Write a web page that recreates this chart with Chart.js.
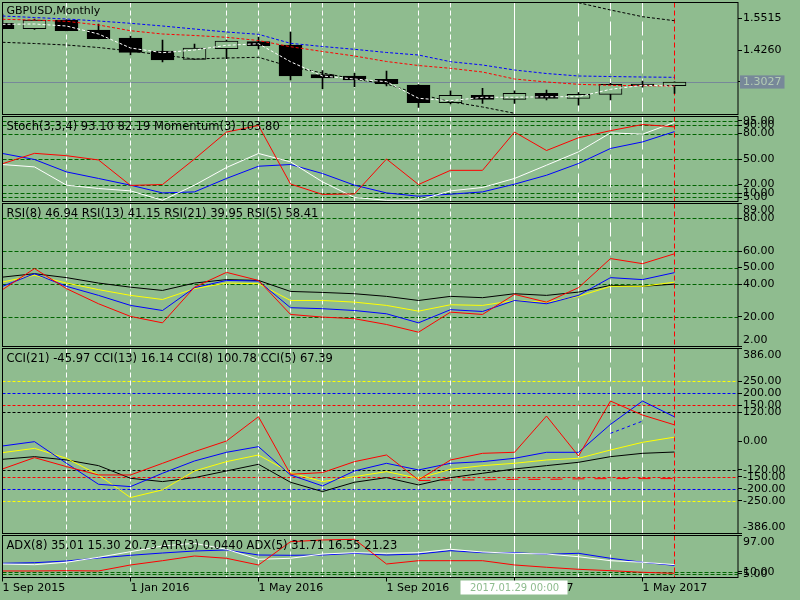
<!DOCTYPE html>
<html>
<head>
<meta charset="utf-8">
<title>GBPUSD,Monthly</title>
<script src="https://cdn.jsdelivr.net/npm/chart.js@4.4.1/dist/chart.umd.min.js"></script>
<style>
  html, body { margin: 0; padding: 0; background: #8fbc8f; overflow: hidden; }
  #terminal { position: relative; width: 800px; height: 600px; }
  #terminal canvas { position: absolute; left: 0; top: 0; }
</style>
</head>
<body>
<div id="terminal">
  <canvas id="paneMain" width="800" height="600"></canvas>
  <canvas id="paneStoch" width="800" height="600"></canvas>
  <canvas id="paneRsi" width="800" height="600"></canvas>
  <canvas id="paneCci" width="800" height="600"></canvas>
  <canvas id="paneAdx" width="800" height="600"></canvas>
</div>
<script>
// monthly bars, Sep 2015 .. Jun 2017
const months = ["2015.09", "2015.10", "2015.11", "2015.12", "2016.01", "2016.02", "2016.03", "2016.04",
  "2016.05", "2016.06", "2016.07", "2016.08", "2016.09", "2016.10", "2016.11", "2016.12",
  "2017.01", "2017.02", "2017.03", "2017.04", "2017.05", "2017.06"];

// candles
const opens  = [1.5309, 1.5099, 1.5437, 1.5048, 1.4737, 1.4232, 1.3909, 1.4321, 1.4594, 1.4465, 1.3311,
  1.3260, 1.3132, 1.2910, 1.2222, 1.2510, 1.2354, 1.2587, 1.2393, 1.2548, 1.2949, 1.2883];
const highs  = [1.5671, 1.5476, 1.5457, 1.5282, 1.4815, 1.4660, 1.4504, 1.4660, 1.4776, 1.4971, 1.3466,
  1.3365, 1.3454, 1.2930, 1.2688, 1.2782, 1.2688, 1.2716, 1.2611, 1.2976, 1.3066, 1.3035];
const lows   = [1.5087, 1.5068, 1.5010, 1.4699, 1.4076, 1.3804, 1.3901, 1.3933, 1.4310, 1.3104, 1.2766,
  1.2844, 1.2871, 1.2043, 1.2171, 1.2198, 1.2198, 1.2327, 1.2121, 1.2327, 1.2821, 1.2587];
const closes = [1.5099, 1.5437, 1.5021, 1.4710, 1.4181, 1.3882, 1.4349, 1.4621, 1.4438, 1.3260, 1.3182,
  1.3104, 1.2961, 1.2222, 1.2510, 1.2354, 1.2587, 1.2393, 1.2548, 1.2937, 1.2883, 1.3027];
const currentPrice = 1.3027;

// moving averages on the price pane
const maBlue  = [1.5593, 1.5534, 1.5476, 1.5398, 1.5309, 1.5204, 1.5087, 1.4971, 1.4881, 1.4531, 1.4407,
  1.4298, 1.4174, 1.4076, 1.3816, 1.3688, 1.3493, 1.3357, 1.3260, 1.3240, 1.3221, 1.3209];
const maRed   = [1.5464, 1.5437, 1.5387, 1.5243, 1.5021, 1.4893, 1.4835, 1.4765, 1.4640, 1.4399, 1.4213,
  1.4038, 1.3824, 1.3668, 1.3559, 1.3415, 1.3143, 1.3027, 1.2937, 1.2898, 1.2883, 1.2871];
const maWhite = [1.5270, 1.5282, 1.5204, 1.4893, 1.4349, 1.4166, 1.4271, 1.4454, 1.4516, 1.3816, 1.3260,
  1.3143, 1.3038, 1.2393, 1.2300, 1.2432, 1.2432, 1.2455, 1.2455, 1.2743, 1.2898, 1.2871];
const maBlack = [1.4570, 1.4524, 1.4465, 1.4368, 1.4232, 1.4076, 1.3921, 1.3960, 1.3987, 1.3622, 1.3377,
  1.3143, 1.2949, 1.2560, 1.2261, 1.2055, 1.1810, null, 1.6110, 1.5826, 1.5566, 1.5410];

// Stoch(3,3,4) + Momentum(3)
const stochMain   = [43.5, 40.7, 19.2, 15.3, 12.5, 1.5, 19.2, 40.0, 56.5, 46.6, 23.1, 4.7, 1.5, 1.5,
  12.5, 16.5, 27.1, 42.7, 58.4, 80.7, 79.2, 93.1];
const stochSignal = [56.5, 49.4, 34.8, 27.1, 19.2, 10.1, 11.3, 27.1, 41.5, 43.5, 32.9, 19.2, 10.1, 6.2,
  8.6, 11.3, 20.4, 30.9, 44.7, 62.4, 70.1, 82.19];
const momentum    = [96.0, 98.2, 97.7, 96.8, 91.4, 91.6, 97.0, 102.7, 104.1, 91.7, 89.5, 89.6, 97.0, 91.6,
  94.6, 94.6, 102.7, 98.8, 101.5, 103.0, 104.3, 103.8];

// RSI
const rsi5  = [36.6, 49.4, 37.2, 28.0, 20.3, 16.4, 38.1, 47.1, 42.2, 21.5, 19.9, 18.9, 15.4, 10.7,
  22.9, 21.5, 33.7, 29.0, 37.8, 55.5, 52.4, 58.41];
const rsi8  = [38.6, 46.3, 38.6, 33.1, 27.0, 23.9, 37.8, 42.2, 41.8, 25.6, 25.0, 23.9, 21.9, 16.4,
  24.4, 23.3, 30.0, 28.0, 33.1, 43.9, 42.7, 46.94];
const rsi13 = [41.2, 45.3, 40.6, 36.6, 33.1, 30.6, 37.2, 40.6, 40.2, 30.0, 30.0, 29.0, 27.0, 23.5,
  27.4, 27.0, 30.0, 29.0, 32.5, 38.6, 38.6, 41.15];
const rsi21 = [44.2, 46.3, 43.9, 40.6, 38.1, 36.1, 40.6, 42.7, 42.2, 35.5, 34.9, 34.1, 32.5, 30.0,
  32.5, 31.7, 34.1, 33.1, 35.1, 39.2, 38.6, 39.95];

// CCI
const cci5  = [-116.7, -69.4, -106.9, -141.7, -141.7, -93.1, -44.4, 0, 101.4, -138.9, -131.9, -86.1,
  -58.3, -162.5, -79.2, -51.4, -47.2, 104.2, -62.5, 166.7, 108.3, 67.39];
const cci8  = [-20.8, -2.8, -93.1, -180.6, -190.3, -134.7, -83.3, -47.2, -23.6, -141.7, -187.5, -125,
  -93.1, -120.8, -93.1, -86.1, -72.2, -47.2, -47.2, 69.4, 166.7, 100.78];
const cci13 = [-48.6, -30.6, -72.2, -141.7, -236, -204, -125, -86.1, -58.3, -131.9, -169.4, -148.6,
  -127.8, -155.6, -118.1, -102.8, -93.1, -79.2, -72.2, -37.5, -5.6, 16.14];
const cci21 = [-76.4, -65.3, -79.2, -102.8, -155.6, -169.4, -152.8, -125, -97.2, -172.2, -211, -172.2,
  -152.8, -183.3, -152.8, -134.7, -116.7, -102.8, -88.9, -65.3, -51.4, -45.97];
const cciAux   = [null, null, null, null, null, null, null, null, null, null, null, null,
  null, null, null, null, null, null, null, 32, 83, null];
const cciTrail = [null, null, null, null, null, null, null, null, null, null, null, null,
  null, -165, -163, -162, -160, -160, -158, -157, -157, -157];

// ADX / ATR pane (pane units)
const adxBlue  = [30.2, 31.6, 35.7, 42.9, 49.4, 54.9, 59.7, 62.1, 50.1, 49.4, 50.1, 54.2, 50.1, 52.5,
  60.5, 55.7, 55.7, 51.8, 54.2, 42.2, 32.6, 25.0];
const adxWhite = [28.5, 26.8, 32.6, 44.6, 58.1, 71.8, 78.2, 63.8, 39.8, 42.2, 52.5, 55.7, 54.2, 55.7,
  63.8, 57.3, 54.2, 52.5, 46.0, 36.4, 32.6, 27.0];
const adxRed   = [11.7, 11.7, 12.4, 11.7, 26.1, 36.4, 47.7, 42.2, 26.1, 82.1, 86.2, 87.9, 28.5, 36.4,
  36.4, 36.4, 26.1, 20.6, 15.7, 12.4, 8.5, 6.1];

// axis ticks and levels
const priceTicks = [1.5515, 1.4260, 1.3027];
const stochTicks = [95, 90, 80, 50, 20, 10, 5];
const rsiTicks = [89, 80, 60, 50, 40, 20, 2];
const rsiLevels = [80, 60, 50, 40, 20];
const cciTicks = [386, 250, 200, 150, 120, 0, -120, -150, -200, -250, -386];
const adxTicks = [97, 10, 5];
const dateTickIdx = [0, 4, 8, 12, 16, 20];
const dateTickText = ["1 Sep 2015", "1 Jan 2016", "1 May 2016", "1 Sep 2016", "1 Jan 2017", "1 May 2017"];

// vertical lines (bar indices)
const dottedMarks = [2, 4, 7, 8, 9, 10, 11, 13, 14];
const solidMarks = [16];
const longDashMarks = [18, 19, 20];
const cursorBar = 21;
const crosshairBar = 16;
const crosshairTime = "2017.01.29 00:00";

// ---- look ----
const BG = "#8fbc8f";
const FONT = '"DejaVu Sans", sans-serif';
const LEVEL_GREEN = "#006400";
const markerLines = [
  { months: dottedMarks, color: "#ffffff", dash: [5, 3] },
  { months: solidMarks, color: "#ffffff", dash: [] },
  { months: longDashMarks, color: "#ffffff", dash: [14, 5] },
  { months: [cursorBar], color: "#ff0000", dash: [5, 3] }
];

// draws levels, vertical marks, pane frame, pane title
const paneDecor = {
  id: "paneDecor",
  beforeDatasetsDraw(chart, args, opts) {
    const { ctx, chartArea: a, scales } = chart;
    ctx.save();
    ctx.beginPath();
    ctx.rect(a.left, a.top, a.right - a.left, a.bottom - a.top);
    ctx.clip();
    ctx.lineWidth = 1;
    (opts.levels || []).forEach(lv => {
      const py = Math.round(scales.y.getPixelForValue(lv.value)) + 0.5;
      ctx.strokeStyle = lv.color;
      ctx.setLineDash(lv.dash);
      ctx.beginPath();
      ctx.moveTo(a.left, py);
      ctx.lineTo(a.right, py);
      ctx.stroke();
    });
    markerLines.forEach(m => {
      ctx.strokeStyle = m.color;
      ctx.setLineDash(m.dash);
      m.months.forEach(i => {
        const px = scales.x.getPixelForValue(i);
        ctx.beginPath();
        ctx.moveTo(px, a.top);
        ctx.lineTo(px, a.bottom);
        ctx.stroke();
      });
    });
    ctx.restore();
  },
  afterDraw(chart, args, opts) {
    const { ctx, chartArea: a } = chart;
    ctx.save();
    ctx.strokeStyle = "#000";
    ctx.lineWidth = 1;
    ctx.setLineDash([]);
    ctx.strokeRect(a.left, a.top, a.right - a.left, a.bottom - a.top);
    if (opts.title) {
      ctx.fillStyle = "#000";
      ctx.font = opts.titleSize + "px " + FONT;
      ctx.textBaseline = "middle";
      ctx.fillText(opts.title, a.left + 4, a.top + opts.titleOffset);
    }
    if (opts.crosshair) {
      // time label of the crosshair under the date axis
      const cx = chart.scales.x.getPixelForValue(crosshairBar);
      ctx.fillStyle = "#ffffff";
      ctx.fillRect(cx - 54, a.bottom + 3, 107, 14);
      ctx.fillStyle = BG;
      ctx.font = "10px " + FONT;
      ctx.textAlign = "center";
      ctx.textBaseline = "middle";
      ctx.fillText(crosshairTime, cx, a.bottom + 10.5);
    }
    ctx.restore();
  }
};

function points(arr) {
  return arr.map((v, i) => ({ x: i, y: v }));
}

function line(data, color, dash, axis, order) {
  return {
    type: "line", data: points(data), borderColor: color, borderWidth: 1,
    borderDash: dash || [], pointRadius: 0, tension: 0, spanGaps: false,
    yAxisID: axis || "y", order: order || 0
  };
}

function yAxis(min, max, tickValues, digits, extra) {
  return Object.assign({
    type: "linear", position: "right", min: min, max: max,
    afterBuildTicks: s => { s.ticks = tickValues.map(v => ({ value: v })); },
    afterFit: s => { s.width = 62; s.paddingTop = 0; s.paddingBottom = 0; },
    grid: { drawOnChartArea: false, drawTicks: true, tickLength: 4, color: "#000" },
    border: { display: false },
    ticks: {
      autoSkip: false, padding: 1, color: "#000",
      font: { family: FONT, size: 11 },
      callback: v => {
        const t = v.toFixed(digits);
        if (v === max) return ["", t];
        if (v === min) return [t, ""];
        return t;
      }
    }
  }, extra || {});
}

function xAxis(showDates) {
  const ax = {
    type: "linear", min: 0, max: 22.984, display: showDates,
    offset: false, grid: { offset: false }
  };
  if (showDates) {
    Object.assign(ax, {
      position: "bottom",
      afterBuildTicks: s => { s.ticks = dateTickIdx.map(v => ({ value: v })); },
      afterFit: s => { s.height = 22.5; s.paddingLeft = 0; s.paddingRight = 0; },
      grid: { offset: false, drawOnChartArea: false, drawTicks: true, tickLength: 4, color: "#000" },
      border: { display: false },
      ticks: {
        autoSkip: false, maxRotation: 0, minRotation: 0, align: "start", padding: 0,
        color: "#000", font: { family: FONT, size: 11 },
        callback: (v, i) => dateTickText[i]
      }
    });
  }
  return ax;
}

function makePane(id, top, bottom, scales, datasets, decor, showDates) {
  return new Chart(document.getElementById(id), {
    type: "line",
    data: { datasets: datasets },
    options: {
      responsive: false, animation: false, devicePixelRatio: 1,
      layout: { padding: { left: 2.5, right: 0, top: top, bottom: showDates ? 0 : 600 - bottom } },
      plugins: { legend: { display: false }, tooltip: { enabled: false }, paneDecor: decor },
      scales: Object.assign({ x: xAxis(showDates) }, scales)
    },
    plugins: [paneDecor]
  });
}

// ---- price pane ----
const priceAxis = yAxis(1.1763, 1.6118, priceTicks, 4);
priceAxis.ticks.showLabelBackdrop = c => c.tick && c.tick.value === currentPrice;
priceAxis.ticks.backdropColor = "#778899";
priceAxis.ticks.backdropPadding = { x: 3, y: 0 };
priceAxis.ticks.color = c => (c.tick && c.tick.value === currentPrice ? "#b4ccb4" : "#000");

makePane("paneMain", 2.5, 114.5, { y: priceAxis }, [
  line(maWhite, "#ffffff", [3, 2], "y", 0),
  line(maBlack, "#000000", [3, 2], "y", 1),
  line(maRed, "#ff0000", [3, 2], "y", 1),
  line(maBlue, "#0000ff", [3, 2], "y", 1),
  {
    type: "bar", data: opens.map((o, i) => ({ x: i, y: [o, closes[i]] })),
    backgroundColor: opens.map((o, i) => (closes[i] >= o ? BG : "#000")),
    borderColor: "#000", borderWidth: 1, borderSkipped: false,
    barThickness: 23, grouped: false, order: 5
  },
  {
    type: "bar", data: lows.map((l, i) => ({ x: i, y: [l, highs[i]] })),
    backgroundColor: "#000", borderWidth: 0, barThickness: 1, grouped: false, order: 6
  }
], {
  title: "GBPUSD,Monthly", titleSize: 11, titleOffset: 9,
  levels: [{ value: currentPrice, color: "#778899", dash: [] }]
}, false);

// ---- stochastic + momentum ----
makePane("paneStoch", 116.5, 201.5, {
  y: yAxis(0, 100, stochTicks, 2),
  yMom: { type: "linear", display: false, min: 88, max: 106 }
}, [
  line(momentum, "#ff0000", [], "yMom", 0),
  line(stochMain, "#ffffff", [], "y", 1),
  line(stochSignal, "#0000ff", [], "y", 2)
], {
  title: "Stoch(3,3,4) 93.10 82.19 Momentum(3) 103.80", titleSize: 11.5, titleOffset: 10.5,
  levels: stochTicks.map(v => ({ value: v, color: LEVEL_GREEN, dash: [4, 2] }))
}, false);

// ---- RSI ----
makePane("paneRsi", 203.5, 346.5, { y: yAxis(2, 89, rsiTicks, 2) }, [
  line(rsi5, "#ff0000", [], "y", 0),
  line(rsi8, "#0000ff", [], "y", 1),
  line(rsi13, "#ffff00", [], "y", 2),
  line(rsi21, "#000000", [], "y", 3)
], {
  title: "RSI(8) 46.94 RSI(13) 41.15 RSI(21) 39.95 RSI(5) 58.41", titleSize: 11.5, titleOffset: 10.5,
  levels: rsiLevels.map(v => ({ value: v, color: LEVEL_GREEN, dash: [4, 2] }))
}, false);

// ---- CCI ----
const cciLevelColors = { 250: "#ffff00", 200: "#0000ff", 150: "#ff0000", 120: "#000000" };
const cciLevels = [];
Object.keys(cciLevelColors).forEach(k => {
  cciLevels.push({ value: +k, color: cciLevelColors[k], dash: [3, 2] });
  cciLevels.push({ value: -k, color: cciLevelColors[k], dash: [3, 2] });
});
makePane("paneCci", 348.5, 533.5, { y: yAxis(-386, 386, cciTicks, 2) }, [
  line(cci5, "#ff0000", [], "y", 0),
  line(cci8, "#0000ff", [], "y", 1),
  line(cciAux, "#0000ff", [3, 3], "y", 1),
  line(cciTrail, "#ff0000", [12, 10], "y", 1),
  line(cci13, "#ffff00", [], "y", 2),
  line(cci21, "#000000", [], "y", 3)
], {
  title: "CCI(21) -45.97 CCI(13) 16.14 CCI(8) 100.78 CCI(5) 67.39", titleSize: 11.5, titleOffset: 10.5,
  levels: cciLevels
}, false);

// ---- ADX / ATR ----
makePane("paneAdx", 535.5, 577.5, { y: yAxis(-4, 97, adxTicks, 2) }, [
  line(adxRed, "#ff0000", [], "y", 0),
  line(adxWhite, "#ffffff", [], "y", 1),
  line(adxBlue, "#0000ff", [], "y", 2)
], {
  title: "ADX(8) 35.01 15.30 20.73 ATR(3) 0.0440 ADX(5) 31.71 16.55 21.23", titleSize: 11.5, titleOffset: 10.5,
  levels: [10, 5].map(v => ({ value: v, color: LEVEL_GREEN, dash: [4, 2] })),
  crosshair: true
}, true);
</script>
</body>
</html>
